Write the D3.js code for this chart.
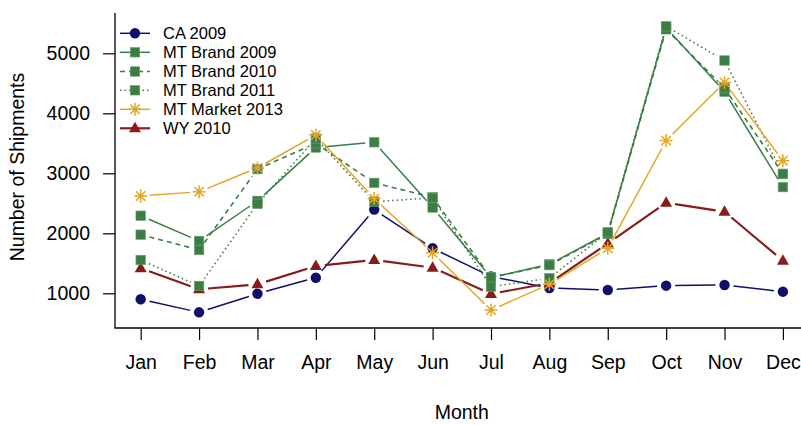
<!DOCTYPE html>
<html>
<head>
<meta charset="utf-8">
<script src="https://cdn.jsdelivr.net/npm/d3@7"></script>
<style>
  html, body { margin: 0; padding: 0; background: #fff; }
  svg { display: block; font-family: "Liberation Sans", Arial, Helvetica, sans-serif; }
</style>
</head>
<body>
<svg id="chart" width="801" height="425"></svg>
<script>
// Monthly shipment counts by series
const months = ["Jan","Feb","Mar","Apr","May","Jun","Jul","Aug","Sep","Oct","Nov","Dec"];
const yTicks = [1000, 2000, 3000, 4000, 5000];

const ca2009      = [900, 683, 993, 1260, 2395, 1750, 1280, 1088, 1055, 1127, 1138, 1027];
const mtBrand2009 = [2293, 1872, 2540, 3430, 3517, 2430, 1263, 1483, 2000, 5430, 4360, 2770];
const mtBrand2010 = [1977, 1722, 3070, 3500, 2840, 2600, 1263, 1470, 1990, 5400, 4420, 2990];
const mtBrand2011 = [1555, 1122, 2490, 3580, 2527, 2590, 1110, 1250, 2020, 5450, 4880, 2990];
const mtMarket2013 = [2622, 2693, 3090, 3638, 2578, 1677, 722, 1150, 1750, 3545, 4515, 3210];
const wy2010      = [1417, 1067, 1150, 1455, 1555, 1427, 990, 1170, 1830, 2510, 2360, 1543];

const NAVY = "#10106b", GREEN = "#3c7d45", GOLD = "#e2a626", RED = "#861c1c";

// legend order
const series = [
  { name: "CA 2009",        values: ca2009,       color: NAVY,  dash: null,     shape: "circle",   width: 1.5 },
  { name: "MT Brand 2009",  values: mtBrand2009,  color: GREEN, dash: null,     shape: "square",   width: 1.5 },
  { name: "MT Brand 2010",  values: mtBrand2010,  color: GREEN, dash: "5,4",    shape: "square",   width: 1.6 },
  { name: "MT Brand 2011",  values: mtBrand2011,  color: GREEN, dash: "1.5,3",  shape: "square",   width: 1.6 },
  { name: "MT Market 2013", values: mtMarket2013, color: GOLD,  dash: null,     shape: "asterisk", width: 1.5 },
  { name: "WY 2010",        values: wy2010,       color: RED,   dash: null,     shape: "triangle", width: 2.2 }
];
// painting order: CA, WY, brands, market on top
const drawOrder = [0, 5, 1, 2, 3, 4];

const svg = d3.select("#chart");
const box = { left: 115, right: 808.6, top: 13, bottom: 328 };

const x = d3.scaleLinear().domain([0.56, 12.44]).range([box.left, box.right]);
const y = d3.scaleLinear().domain([1000, 5000]).range([293.3, 53.3]);

const FONT = 19.5;

// axes (L-shaped frame)
const xAxis = d3.axisBottom(x)
  .tickValues(d3.range(1, 13))
  .tickFormat(i => months[i - 1])
  .tickSize(12).tickPadding(9).tickSizeOuter(0);
const gx = svg.append("g").attr("transform", `translate(0,${box.bottom})`).call(xAxis);
gx.select(".domain").remove();
gx.selectAll("line").attr("stroke", "#000").attr("stroke-width", 1.2);
gx.selectAll("text").attr("font-size", FONT).attr("fill", "#000").attr("dy", "1.05em");

const yAxis = d3.axisLeft(y).tickValues(yTicks).tickFormat(d3.format("d"))
  .tickSize(12).tickPadding(13).tickSizeOuter(0);
const gy = svg.append("g").attr("transform", `translate(${box.left},0)`).call(yAxis);
gy.select(".domain").remove();
gy.selectAll("line").attr("stroke", "#000").attr("stroke-width", 1.2);
gy.selectAll("text").attr("font-size", FONT).attr("fill", "#000");

svg.append("path")
  .attr("d", `M${box.left},${box.top}V${box.bottom}H${box.right}`)
  .attr("fill", "none").attr("stroke", "#000").attr("stroke-width", 1.3);

// axis titles
svg.append("text").attr("x", (box.left + box.right) / 2).attr("y", 419)
  .attr("text-anchor", "middle").attr("font-size", FONT).text("Month");
svg.append("text").attr("transform", "translate(24,167) rotate(-90)")
  .attr("text-anchor", "middle").attr("font-size", FONT).text("Number of Shipments");

// marker drawing
function marker(g, shape, cx, cy, color) {
  if (shape === "circle") {
    g.append("circle").attr("cx", cx).attr("cy", cy).attr("r", 5.2).attr("fill", color);
  } else if (shape === "square") {
    const s = 9.5;
    g.append("rect").attr("x", cx - s / 2).attr("y", cy - s / 2).attr("width", s).attr("height", s)
      .attr("fill", color).attr("stroke", "#6f9f74").attr("stroke-width", 0.6);
  } else if (shape === "triangle") {
    const h = 10.5, w = 12;
    g.append("path")
      .attr("d", `M${cx},${cy - h * 0.62}L${cx + w / 2},${cy + h * 0.38}L${cx - w / 2},${cy + h * 0.38}Z`)
      .attr("fill", color);
  } else if (shape === "asterisk") {
    const r = 6.5, d = r * 0.72;
    g.append("path")
      .attr("d", `M${cx - r},${cy}H${cx + r}M${cx},${cy - r}V${cy + r}` +
                 `M${cx - d},${cy - d}L${cx + d},${cy + d}M${cx - d},${cy + d}L${cx + d},${cy - d}`)
      .attr("stroke", color).attr("stroke-width", 1.5).attr("fill", "none");
  }
}

// line segments with gaps around the points
const GAP = 9;
function segments(vals) {
  const pts = vals.map((v, i) => [x(i + 1), y(v)]);
  const out = [];
  for (let i = 0; i < pts.length - 1; i++) {
    const [x0, y0] = pts[i], [x1, y1] = pts[i + 1];
    const len = Math.hypot(x1 - x0, y1 - y0);
    if (len <= 2 * GAP) continue;
    const ux = (x1 - x0) / len, uy = (y1 - y0) / len;
    out.push([[x0 + ux * GAP, y0 + uy * GAP], [x1 - ux * GAP, y1 - uy * GAP]]);
  }
  return out;
}

const plot = svg.append("g");
drawOrder.forEach(k => {
  const s = series[k];
  const g = plot.append("g");
  g.selectAll("line.seg").data(segments(s.values)).join("line")
    .attr("x1", d => d[0][0]).attr("y1", d => d[0][1])
    .attr("x2", d => d[1][0]).attr("y2", d => d[1][1])
    .attr("stroke", s.color).attr("stroke-width", s.width)
    .attr("stroke-dasharray", s.dash);
  s.values.forEach((v, i) => marker(g, s.shape, x(i + 1), y(v), s.color));
});

// legend
const legendRows = [33.3, 52.3, 71.5, 90.3, 109.3, 128.3];
const lg = svg.append("g");
series.forEach((s, i) => {
  const cy = legendRows[i];
  lg.append("line").attr("x1", 120).attr("x2", 150).attr("y1", cy).attr("y2", cy)
    .attr("stroke", s.color).attr("stroke-width", s.width).attr("stroke-dasharray", s.dash);
  marker(lg, s.shape, 135, cy, s.color);
  lg.append("text").attr("x", 163).attr("y", cy).attr("dy", "0.36em")
    .attr("font-size", 16.5).text(s.name);
});
</script>
</body>
</html>
